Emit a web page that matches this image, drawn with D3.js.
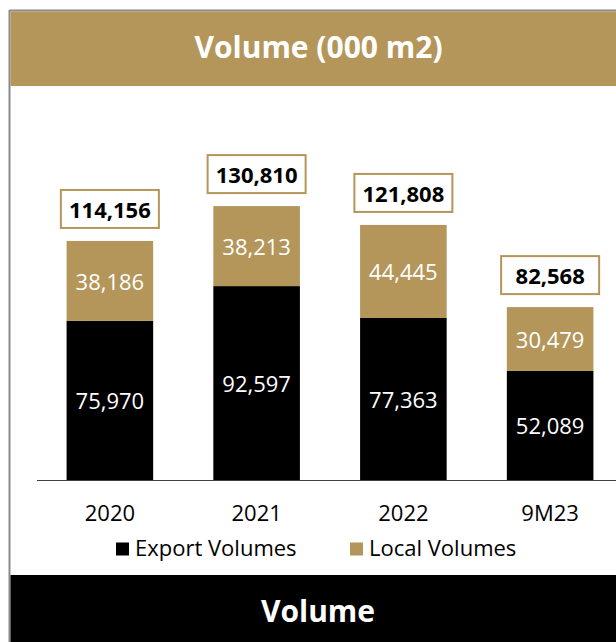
<!DOCTYPE html>
<html>
<head>
<meta charset="utf-8">
<script src="https://cdn.jsdelivr.net/npm/d3@7"></script>
<style>
  html, body { margin: 0; padding: 0; background: #ffffff; }
  svg { display: block; font-family: "Open Sans", "Noto Sans", sans-serif; }
</style>
</head>
<body>
<svg id="chart" width="616" height="642"></svg>
<script>
// Volume by period, in thousand square metres
const categories = ["2020", "2021", "2022", "9M23"];
const exportVolumes = [75970, 92597, 77363, 52089];
const localVolumes = [38186, 38213, 44445, 30479];
const totals = [114156, 130810, 121808, 82568];
const seriesNames = ["Export Volumes", "Local Volumes"];

const gold = "#b4965a";
const black = "#000000";
const frameGray = "#8a8a8a";
const capRatio = 0.714; // cap/digit height of Open Sans relative to font size

const svg = d3.select("#chart");
const W = 616, H = 642;

// panel frame: top and left edges
svg.append("line").attr("x1", 9.5).attr("x2", W).attr("y1", 10.5).attr("y2", 10.5)
  .attr("stroke", frameGray).attr("stroke-width", 2);
svg.append("line").attr("x1", 9.5).attr("x2", 9.5).attr("y1", 10).attr("y2", H)
  .attr("stroke", frameGray).attr("stroke-width", 2);

// header banner
svg.append("rect").attr("x", 10.5).attr("y", 11.5).attr("width", W - 10.5).attr("height", 74.5).attr("fill", gold);
svg.append("text").attr("x", 318.5).attr("y", 58).attr("text-anchor", "middle")
  .attr("fill", "#ffffff").attr("font-weight", 700).attr("font-size", 30)
  .text("Volume (000 m2)");

// footer banner
svg.append("rect").attr("x", 10.5).attr("y", 575).attr("width", W - 10.5).attr("height", H - 575).attr("fill", black);
svg.append("text").attr("x", 318).attr("y", 622).attr("text-anchor", "middle")
  .attr("fill", "#ffffff").attr("font-weight", 700).attr("font-size", 30)
  .text("Volume");

// scales
const x = d3.scaleBand().domain(categories).range([36.5, 623.5]).paddingInner(0.41).paddingOuter(0.205);
const y = d3.scaleLinear().domain([0, 140000]).range([480, 480 - 140000 * 0.002094]);

const rows = categories.map((c, i) => ({
  cat: c, exp: exportVolumes[i], loc: localVolumes[i], total: totals[i]
}));
const stack = d3.stack().keys(["exp", "loc"])(rows);
const colors = { exp: black, loc: gold };

const layers = svg.append("g").selectAll("g").data(stack).join("g")
  .attr("fill", d => colors[d.key]);

layers.selectAll("rect").data(d => d).join("rect")
  .attr("x", d => x(d.data.cat))
  .attr("width", x.bandwidth())
  .attr("y", d => y(d[1]))
  .attr("height", d => y(d[0]) - y(d[1]));

// segment value labels, centred in each segment
const fmt = d3.format(",");
const segSize = 22;
layers.selectAll("text").data(d => d.map(s => ({ s, key: d.key }))).join("text")
  .attr("x", d => x(d.s.data.cat) + x.bandwidth() / 2)
  .attr("y", d => (y(d.s[0]) + y(d.s[1])) / 2 + 1 + capRatio * segSize / 2)
  .attr("text-anchor", "middle")
  .attr("fill", "#ffffff")
  .attr("font-size", segSize)
  .text(d => fmt(d.s.data[d.key]));

// total callouts above each bar
const boxW = 98, boxH = 38, totSize = 22;
const callouts = svg.append("g").selectAll("g").data(rows).join("g")
  .attr("transform", d => `translate(${x(d.cat) + x.bandwidth() / 2},${y(d.total) - 13 - boxH / 2})`);
callouts.append("rect")
  .attr("x", -boxW / 2).attr("y", -boxH / 2)
  .attr("width", boxW).attr("height", boxH)
  .attr("fill", "#ffffff").attr("stroke", gold).attr("stroke-width", 2);
callouts.append("text")
  .attr("text-anchor", "middle")
  .attr("y", 1 + capRatio * totSize / 2)
  .attr("font-weight", 700).attr("font-size", totSize).attr("fill", black)
  .text(d => fmt(d.total));

// baseline axis with category labels
const axis = svg.append("g").attr("transform", `translate(0,${y(0)})`)
  .call(d3.axisBottom(x).tickSize(0).tickPadding(0));
axis.select(".domain").attr("d", `M37,0.5H${W}`).attr("stroke", "#404040").attr("stroke-width", 1.2);
axis.selectAll(".tick text")
  .attr("dy", null).attr("y", 41)
  .attr("font-size", 22).attr("fill", black)
  .attr("font-family", "'Open Sans', 'Noto Sans', sans-serif");

// legend
const legendItems = [
  { name: seriesNames[0], color: black, x: 116 },
  { name: seriesNames[1], color: gold, x: 350 }
];
const legend = svg.append("g").selectAll("g").data(legendItems).join("g")
  .attr("transform", d => `translate(${d.x},542.5)`);
legend.append("rect").attr("x", 0).attr("y", 0).attr("width", 13).attr("height", 13).attr("fill", d => d.color);
legend.append("text").attr("x", 19).attr("y", 13.5)
  .attr("font-size", 22).attr("fill", black).text(d => d.name);
</script>
</body>
</html>
